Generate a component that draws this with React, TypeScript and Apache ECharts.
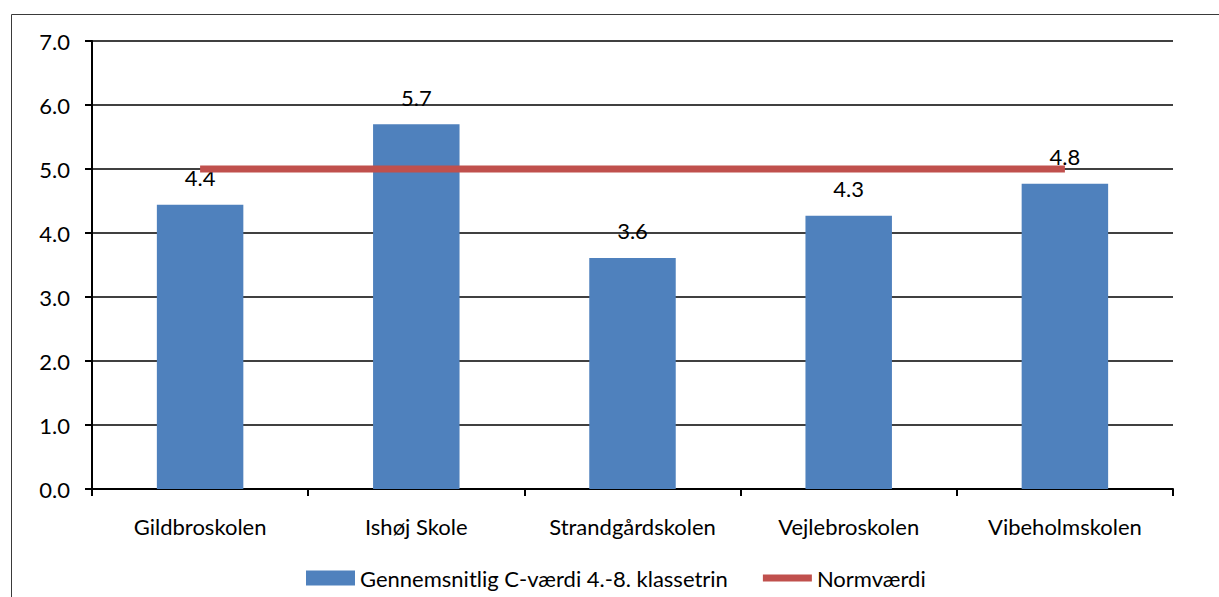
import React, { useEffect, useRef } from "react";
import * as echarts from "echarts";

const categories = ["Gildbroskolen", "Ishøj Skole", "Strandgårdskolen", "Vejlebroskolen", "Vibeholmskolen"];
const averageValues = [4.44, 5.7, 3.61, 4.27, 4.77];
const normValues = [5, 5, 5, 5, 5];
const seriesNames = ["Gennemsnitlig C-værdi 4.-8. klassetrin", "Normværdi"];

const FONT = "Lato";
const FS = 22;

export default function App() {
  const ref = useRef<HTMLDivElement>(null);
  useEffect(() => {
    if (!ref.current) return;
    const chart = echarts.init(ref.current, undefined, { renderer: "svg" });
    chart.setOption({
      animation: false,
      backgroundColor: "#ffffff",
      textStyle: { fontFamily: FONT },
      graphic: [
        {
          type: "rect",
          left: 9,
          top: 12,
          shape: { width: 1230, height: 600 },
          style: { fill: "none", stroke: "#3a3a3a", lineWidth: 1 },
          silent: true,
        },
      ],
      grid: { left: 92, right: 46, top: 41, bottom: 108 },
      legend: {
        left: 301,
        top: 562,
        itemWidth: 49,
        itemHeight: 15,
        itemGap: 35,
        textStyle: { fontFamily: FONT, fontSize: FS, color: "#000" },
        data: [
          { name: seriesNames[0], icon: "rect" },
          { name: seriesNames[1], icon: "path://M0,0H48V7H0Z" },
        ],
      },
      xAxis: {
        type: "category",
        data: categories,
        axisLine: { show: true, lineStyle: { color: "#000", width: 2 } },
        axisTick: { show: true, interval: 0, alignWithLabel: false, length: 7, lineStyle: { color: "#000", width: 2 } },
        axisLabel: { color: "#000", fontFamily: FONT, fontSize: FS, margin: 26, interval: 0 },
        splitLine: { show: false },
      },
      yAxis: {
        type: "value",
        min: 0,
        max: 7,
        interval: 1,
        axisLine: { show: true, lineStyle: { color: "#000", width: 2 } },
        axisTick: { show: true, inside: false, length: 7, lineStyle: { color: "#000", width: 2 } },
        axisLabel: {
          color: "#000",
          fontFamily: FONT,
          fontSize: FS,
          margin: 22,
          formatter: (v: number) => v.toFixed(1),
        },
        splitLine: { show: true, lineStyle: { color: "#000", width: 1.5 } },
      },
      series: [
        {
          name: seriesNames[0],
          type: "bar",
          data: averageValues,
          barWidth: "40%",
          itemStyle: { color: "#4F81BD" },
          label: {
            show: true,
            position: "top",
            distance: 16,
            color: "#000",
            fontFamily: FONT,
            fontSize: FS,
            formatter: (p: any) => Number(p.value).toFixed(1),
          },
          z: 2,
        },
        {
          name: seriesNames[1],
          type: "line",
          data: normValues,
          symbol: "none",
          showSymbol: false,
          lineStyle: { color: "#C0504D", width: 7, cap: "butt" },
          itemStyle: { color: "#C0504D" },
          z: 3,
        },
      ],
    });
    return () => chart.dispose();
  }, []);
  return (
    <div
      ref={ref}
      style={{ position: "fixed", left: 0, top: 0, width: 1219, height: 597 }}
    />
  );
}
